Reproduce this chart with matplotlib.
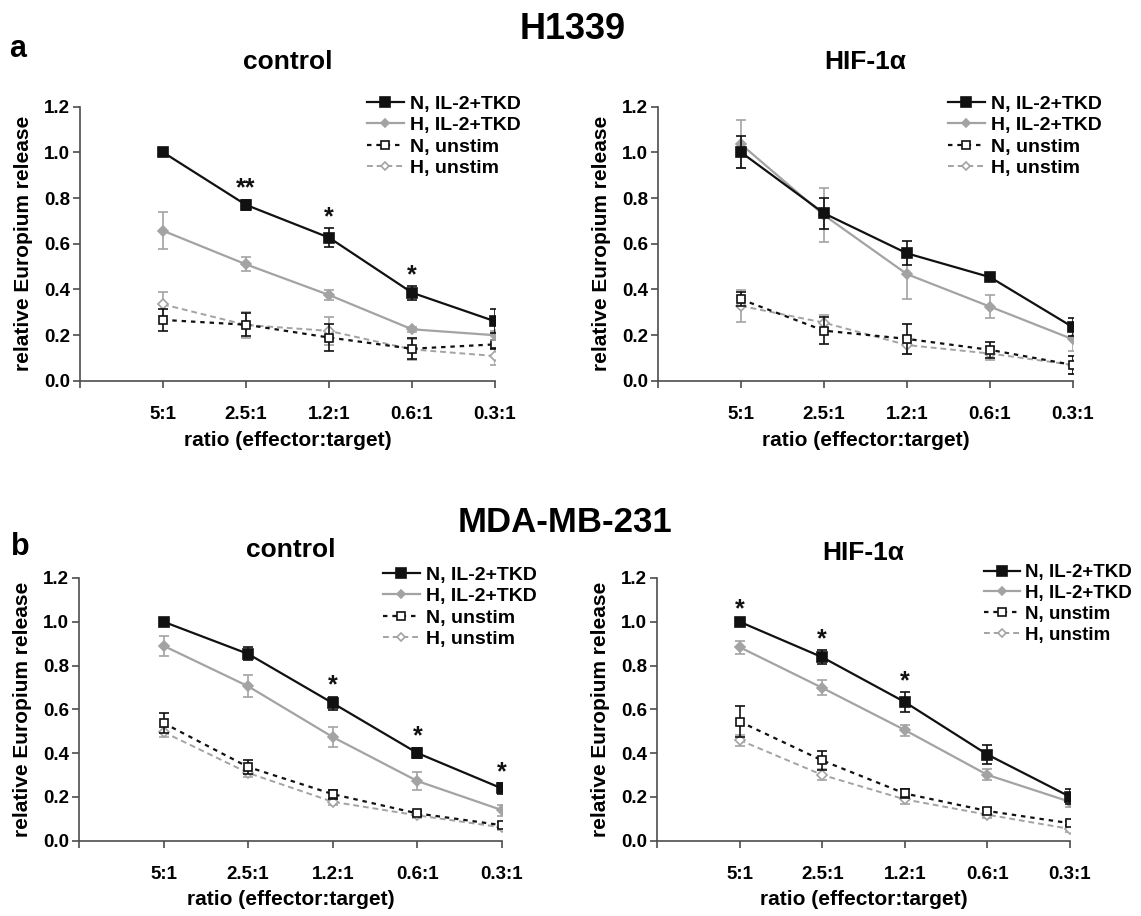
import matplotlib
matplotlib.use("Agg")
import matplotlib.pyplot as plt
from matplotlib.lines import Line2D
import numpy as np

plt.rcParams['font.family'] = ['Liberation Sans', 'DejaVu Sans']
plt.rcParams['font.weight'] = 'bold'

ratios = ["5:1", "2.5:1", "1.2:1", "0.6:1", "0.3:1"]
series_names = ["N, IL-2+TKD", "H, IL-2+TKD", "N, unstim", "H, unstim"]

# H1339 control
h_ctrl_n_stim = [1.00, 0.77, 0.627, 0.386, 0.261]
h_ctrl_n_stim_err = [0.005, 0.023, 0.040, 0.030, 0.052]
h_ctrl_h_stim = [0.657, 0.51, 0.376, 0.226, 0.20]
h_ctrl_h_stim_err = [0.080, 0.030, 0.020, 0.010, 0.020]
h_ctrl_n_uns = [0.267, 0.246, 0.19, 0.141, 0.16]
h_ctrl_n_uns_err = [0.047, 0.050, 0.060, 0.045, 0.020]
h_ctrl_h_uns = [0.335, 0.245, 0.219, 0.138, 0.109]
h_ctrl_h_uns_err = [0.053, 0.055, 0.060, 0.045, 0.040]
h_ctrl_stars = ["", "**", "*", "*", ""]

# H1339 HIF-1a
h_hif_n_stim = [1.00, 0.733, 0.558, 0.454, 0.235]
h_hif_n_stim_err = [0.070, 0.068, 0.052, 0.010, 0.040]
h_hif_h_stim = [1.035, 0.725, 0.467, 0.325, 0.182]
h_hif_h_stim_err = [0.105, 0.118, 0.110, 0.050, 0.050]
h_hif_n_uns = [0.357, 0.22, 0.184, 0.136, 0.07]
h_hif_n_uns_err = [0.030, 0.060, 0.064, 0.035, 0.040]
h_hif_h_uns = [0.328, 0.255, 0.157, 0.12, 0.07]
h_hif_h_uns_err = [0.070, 0.035, 0.040, 0.030, 0.040]
h_hif_stars = ["", "", "", "", ""]

# MDA-MB-231 control
m_ctrl_n_stim = [1.00, 0.853, 0.628, 0.40, 0.238]
m_ctrl_n_stim_err = [0.005, 0.030, 0.030, 0.025, 0.025]
m_ctrl_h_stim = [0.89, 0.705, 0.473, 0.272, 0.139]
m_ctrl_h_stim_err = [0.045, 0.050, 0.045, 0.040, 0.025]
m_ctrl_n_uns = [0.537, 0.336, 0.212, 0.124, 0.07]
m_ctrl_n_uns_err = [0.045, 0.030, 0.020, 0.010, 0.015]
m_ctrl_h_uns = [0.496, 0.309, 0.177, 0.115, 0.06]
m_ctrl_h_uns_err = [0.025, 0.020, 0.015, 0.010, 0.010]
m_ctrl_stars = ["", "", "*", "*", "*"]

# MDA-MB-231 HIF-1a
m_hif_n_stim = [1.00, 0.838, 0.633, 0.393, 0.20]
m_hif_n_stim_err = [0.008, 0.033, 0.044, 0.042, 0.035]
m_hif_h_stim = [0.884, 0.698, 0.505, 0.30, 0.177]
m_hif_h_stim_err = [0.030, 0.035, 0.025, 0.025, 0.025]
m_hif_n_uns = [0.544, 0.366, 0.215, 0.135, 0.079]
m_hif_n_uns_err = [0.070, 0.045, 0.020, 0.015, 0.010]
m_hif_h_uns = [0.459, 0.30, 0.188, 0.118, 0.053]
m_hif_h_uns_err = [0.025, 0.025, 0.020, 0.015, 0.015]
m_hif_stars = ["*", "*", "*", "", ""]

BLACK = '#111111'
GRAY = '#a3a3a3'
SPINE = '#4d4d4d'
W, H = 1141, 916

fig = plt.figure(figsize=(W / 100, H / 100), dpi=100)

panels = [
    ([0.0701, 0.5841, 0.3637, 0.2996], "control", 27,
     [h_ctrl_n_stim, h_ctrl_h_stim, h_ctrl_n_uns, h_ctrl_h_uns],
     [h_ctrl_n_stim_err, h_ctrl_h_stim_err, h_ctrl_n_uns_err, h_ctrl_h_uns_err], h_ctrl_stars,
     (367, 95), 14),
    ([0.5767, 0.5841, 0.3637, 0.2996], "HIF-1\u03b1", 27,
     [h_hif_n_stim, h_hif_h_stim, h_hif_n_uns, h_hif_h_uns],
     [h_hif_n_stim_err, h_hif_h_stim_err, h_hif_n_uns_err, h_hif_h_uns_err], h_hif_stars,
     (948, 95), 14),
    ([0.0692, 0.0824, 0.3707, 0.2866], "control", 15,
     [m_ctrl_n_stim, m_ctrl_h_stim, m_ctrl_n_uns, m_ctrl_h_uns],
     [m_ctrl_n_stim_err, m_ctrl_h_stim_err, m_ctrl_n_uns_err, m_ctrl_h_uns_err], m_ctrl_stars,
     (383, 566), 14),
    ([0.5758, 0.0824, 0.3620, 0.2866], "HIF-1\u03b1", 13,
     [m_hif_n_stim, m_hif_h_stim, m_hif_n_uns, m_hif_h_uns],
     [m_hif_n_stim_err, m_hif_h_stim_err, m_hif_n_uns_err, m_hif_h_uns_err], m_hif_stars,
     (984, 564), 13.5),
]

styles = [
    dict(color=BLACK, ls='-', lw=1.6, marker='s', ms=7, mfc=BLACK, mec=BLACK),
    dict(color=GRAY, ls='-', lw=1.6, marker='D', ms=5, mfc=GRAY, mec=GRAY),
    dict(color=BLACK, ls=(0, (2, 2.2)), lw=1.6, marker='s', ms=6, mfc='white', mec=BLACK),
    dict(color=GRAY, ls=(0, (3, 2)), lw=1.4, marker='D', ms=5, mfc='white', mec=GRAY),
]

xpos = np.arange(1, len(ratios) + 1)
for rect, title, tpad, vals, errs, stars, leg_px, leg_fs in panels:
    ax = fig.add_axes(rect)
    handles = []
    for k in range(4):
        st = styles[k]
        ax.errorbar(xpos, vals[k], yerr=errs[k], color=st['color'], ls=st['ls'], lw=st['lw'],
                    marker=st['marker'], ms=st['ms'], mfc=st['mfc'], mec=st['mec'], mew=1.2,
                    ecolor=st['color'], elinewidth=1.2, capsize=3.5, capthick=1.2,
                    zorder=5 - k)
        handles.append(Line2D([], [], color=st['color'], ls=st['ls'], lw=st['lw'],
                              marker=st['marker'], ms=st['ms'] - 0.5, mfc=st['mfc'],
                              mec=st['mec'], mew=1.2, label=series_names[k]))
    for i, s in enumerate(stars):
        if s:
            top = vals[0][i] + errs[0][i]
            ax.text(xpos[i], top - 0.005, s, ha='center', va='bottom', fontsize=18,
                    fontweight='bold', color=BLACK)
    ax.set_xlim(0, 5)
    ax.set_ylim(0, 1.2)
    ax.set_xticks([0] + list(xpos))
    ax.set_xticklabels([""] + ratios)
    yt = np.arange(0, 1.21, 0.2)
    ax.set_yticks(yt)
    ax.set_yticklabels([f"{v:.1f}" for v in yt])
    for sp in ['top', 'right']:
        ax.spines[sp].set_visible(False)
    for sp in ['left', 'bottom']:
        ax.spines[sp].set_color(SPINE)
        ax.spines[sp].set_linewidth(1.2)
    ax.tick_params(axis='both', direction='out', length=5, width=1.2, color=SPINE,
                   labelsize=13.5)
    ax.tick_params(axis='y', pad=2)
    ax.tick_params(axis='x', pad=13)
    for lab in ax.get_xticklabels() + ax.get_yticklabels():
        lab.set_fontweight('bold')
    ax.set_xlabel("ratio (effector:target)", fontsize=15, fontweight='bold', labelpad=5.5)
    ax.set_ylabel("relative Europium release", fontsize=15, fontweight='bold', labelpad=8)
    ax.set_title(title, fontsize=19, fontweight='bold', pad=tpad)
    fig.legend(handles=handles, loc='upper left',
               bbox_to_anchor=(leg_px[0] / W, 1 - leg_px[1] / H),
               frameon=False, handlelength=1.9, handletextpad=0.3,
               labelspacing=0.2, borderaxespad=0.0, borderpad=0.0,
               prop={'weight': 'bold', 'size': leg_fs})

fig.text(0.502, 0.968, "H1339", ha='center', va='center', fontsize=26, fontweight='bold')
fig.text(0.495, 0.430, "MDA-MB-231", ha='center', va='center', fontsize=25, fontweight='bold')
fig.text(0.008, 0.947, "a", ha='left', va='center', fontsize=22, fontweight='bold')
fig.text(0.010, 0.403, "b", ha='left', va='center', fontsize=22, fontweight='bold')

fig.savefig("out.png", dpi=100)
